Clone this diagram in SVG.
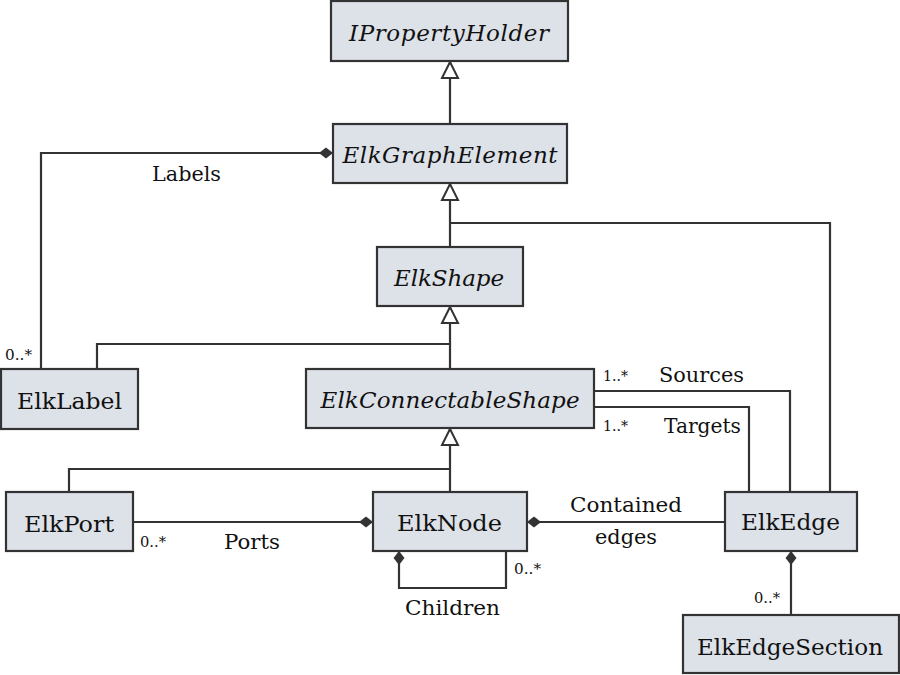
<svg xmlns="http://www.w3.org/2000/svg" width="900" height="675" viewBox="0 0 900 675">
<style>
.box{fill:#dde1e8;stroke:#333;stroke-width:2.2}
text{fill:#111;font-family:"DejaVu Serif","Liberation Serif",serif}
.n{font-size:23px;text-anchor:middle}
.i{font-style:italic}
.c{fill:none;stroke:#333;stroke-width:2.2}
.l{font-size:20px}
.m{font-size:14px}
</style>
<defs>
<marker id="tri" markerUnits="userSpaceOnUse" markerWidth="20" markerHeight="20" refX="17" refY="8.5" orient="auto" overflow="visible">
<path d="M1,0.5 L17,8.5 L1,16.5 Z" fill="#fff" stroke="#333" stroke-width="2"/>
</marker>
<marker id="dia" markerUnits="userSpaceOnUse" markerWidth="16" markerHeight="12" refX="14" refY="5.5" orient="auto" overflow="visible">
<path d="M0,5.5 L7,0 L14,5.5 L7,11 Z" fill="#333"/>
</marker>
</defs>
<g id="connectors">
<path class="c" d="M450,124 V62" marker-end="url(#tri)"/>
<path class="c" d="M450,247 V184" marker-end="url(#tri)"/>
<path class="c" d="M830,492 V223 H450"/>
<path class="c" d="M450,369 V307" marker-end="url(#tri)"/>
<path class="c" d="M97,369 V344 H450"/>
<path class="c" d="M450,492 V429" marker-end="url(#tri)"/>
<path class="c" d="M69,492 V469 H450"/>
<path class="c" d="M41,369 V153 H333" marker-end="url(#dia)"/>
<path class="c" d="M133,522 H373" marker-end="url(#dia)"/>
<path class="c" d="M725,522 H527" marker-end="url(#dia)"/>
<path class="c" d="M506,551 V588 H399 V551" marker-end="url(#dia)"/>
<path class="c" d="M594,391 H790 V492"/>
<path class="c" d="M594,407 H749 V492"/>
<path class="c" d="M791,615 V551" marker-end="url(#dia)"/>
<text class="l" x="152" y="181" textLength="69" lengthAdjust="spacingAndGlyphs">Labels</text>
<text class="m" x="5" y="360" textLength="27" lengthAdjust="spacingAndGlyphs">0..*</text>
<text class="m" x="140" y="547" textLength="26" lengthAdjust="spacingAndGlyphs">0..*</text>
<text class="l" x="224" y="549" textLength="56" lengthAdjust="spacingAndGlyphs">Ports</text>
<text class="m" x="514" y="574" textLength="27" lengthAdjust="spacingAndGlyphs">0..*</text>
<text class="l" x="405" y="615" textLength="95" lengthAdjust="spacingAndGlyphs">Children</text>
<text class="m" x="603" y="381" textLength="25" lengthAdjust="spacingAndGlyphs">1..*</text>
<text class="l" x="659" y="382" textLength="85" lengthAdjust="spacingAndGlyphs">Sources</text>
<text class="m" x="603" y="431" textLength="25" lengthAdjust="spacingAndGlyphs">1..*</text>
<text class="l" x="664" y="433" textLength="77" lengthAdjust="spacingAndGlyphs">Targets</text>
<text class="l" x="570" y="512" textLength="112" lengthAdjust="spacingAndGlyphs">Contained</text>
<text class="l" x="595" y="544" textLength="62" lengthAdjust="spacingAndGlyphs">edges</text>
<text class="m" x="754" y="603" textLength="26" lengthAdjust="spacingAndGlyphs">0..*</text>
</g>
<g id="IPropertyHolder">
<rect class="box" x="331" y="1" width="237" height="60"/>
<text class="n i" x="449" y="41" textLength="200" lengthAdjust="spacing">IPropertyHolder</text>
</g>
<g id="ElkGraphElement">
<rect class="box" x="333" y="124" width="234" height="59"/>
<text class="n i" x="450" y="163" textLength="215" lengthAdjust="spacing">ElkGraphElement</text>
</g>
<g id="ElkShape">
<rect class="box" x="377" y="247" width="146" height="59"/>
<text class="n i" x="449" y="286" textLength="110" lengthAdjust="spacing">ElkShape</text>
</g>
<g id="ElkConnectableShape">
<rect class="box" x="306" y="369" width="288" height="59"/>
<text class="n i" x="450" y="408" textLength="259" lengthAdjust="spacing">ElkConnectableShape</text>
</g>
<g id="ElkLabel">
<rect class="box" x="1" y="369" width="137" height="60"/>
<text class="n" x="69.5" y="409" textLength="105" lengthAdjust="spacingAndGlyphs">ElkLabel</text>
</g>
<g id="ElkPort">
<rect class="box" x="6" y="492" width="127" height="59"/>
<text class="n" x="69" y="532" textLength="90" lengthAdjust="spacingAndGlyphs">ElkPort</text>
</g>
<g id="ElkNode">
<rect class="box" x="373" y="492" width="154" height="59"/>
<text class="n" x="449.5" y="531" textLength="105" lengthAdjust="spacingAndGlyphs">ElkNode</text>
</g>
<g id="ElkEdge">
<rect class="box" x="725" y="492" width="132" height="59"/>
<text class="n" x="790.5" y="530" textLength="99" lengthAdjust="spacingAndGlyphs">ElkEdge</text>
</g>
<g id="ElkEdgeSection">
<rect class="box" x="683" y="615" width="216" height="58"/>
<text class="n" x="790" y="655" textLength="186" lengthAdjust="spacingAndGlyphs">ElkEdgeSection</text>
</g>
</svg>
